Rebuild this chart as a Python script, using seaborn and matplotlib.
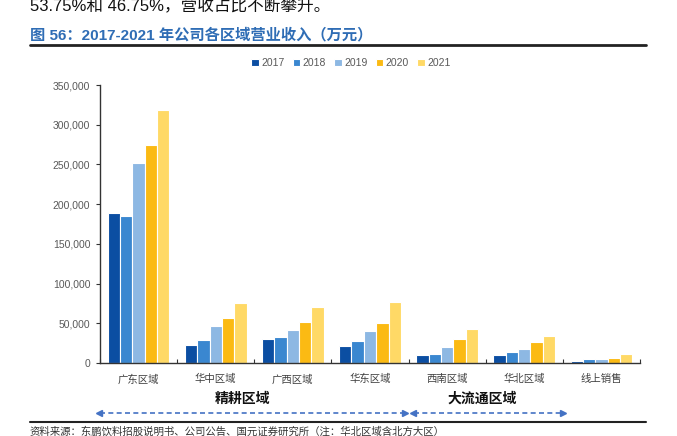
import pandas as pd
import matplotlib
matplotlib.use("Agg")
import matplotlib.pyplot as plt
import matplotlib.ticker as mticker
from matplotlib.lines import Line2D
import seaborn as sns

# Données (万元)
regions = ["广东区域", "华中区域", "广西区域", "华东区域", "西南区域", "华北区域", "线上销售"]
years = ["2017", "2018", "2019", "2020", "2021"]
v2017 = [189000, 22500, 30500, 21300, 10400, 10000, 2500]
v2018 = [184500, 29200, 33000, 27200, 11300, 14200, 4600]
v2019 = [251500, 46400, 41700, 39700, 19600, 17100, 4600]
v2020 = [274500, 56400, 52200, 50100, 29700, 25900, 6300]
v2021 = [319000, 75600, 70600, 76800, 43000, 34200, 11300]
colors = ["#0B4EA2", "#3A87D0", "#8DB8E3", "#FBBA13", "#FFD966"]

rows = []
for y, vals in zip(years, [v2017, v2018, v2019, v2020, v2021]):
    for r, v in zip(regions, vals):
        rows.append({"Region": r, "Year": y, "Value": v})
df = pd.DataFrame(rows)

sns.set_style("white")
plt.rcParams["font.family"] = ["Liberation Sans", "Noto Sans CJK SC", "DejaVu Sans"]
cjk = ["Noto Sans CJK SC", "DejaVu Sans"]

W, H = 677, 436
fig = plt.figure(figsize=(W / 100, H / 100), dpi=100)
ax = fig.add_axes([100 / W, 1 - 363 / H, 540 / W, 278 / H])

sns.barplot(data=df, x="Region", y="Value", hue="Year", palette=colors,
            order=regions, hue_order=years, width=0.8, saturation=1,
            edgecolor="white", linewidth=0.8, ax=ax)

ax.set_ylim(0, 350000)
ax.set_xlim(-0.5, len(regions) - 0.5)
ax.yaxis.set_major_locator(mticker.MultipleLocator(50000))
ax.yaxis.set_major_formatter(mticker.FuncFormatter(lambda v, p: f"{int(v):,}"))
ax.set_xlabel("")
ax.set_ylabel("")
for s in ["top", "right"]:
    ax.spines[s].set_visible(False)
for s in ["left", "bottom"]:
    ax.spines[s].set_color("#333333")
    ax.spines[s].set_linewidth(1.0)

ax.tick_params(axis="y", labelsize=7.5, labelcolor="#595959", length=3,
               width=0.8, color="#333333", left=True, pad=4)
ax.tick_params(axis="x", which="major", length=0, labelsize=7.5,
               labelcolor="#404040", pad=8)
ax.set_xticks([i - 0.5 for i in range(len(regions) + 1)], minor=True)
ax.tick_params(axis="x", which="minor", direction="in", length=3,
               width=0.8, color="#333333", bottom=True)

ax.legend(loc="center", bbox_to_anchor=(351 / W, 1 - 63 / H),
          bbox_transform=fig.transFigure, ncol=5, frameon=False,
          fontsize=7.5, handlelength=0.7, handleheight=0.7,
          handletextpad=0.25, columnspacing=0.8, labelcolor="#595959")

# Textes hors du graphique
fig.text(30 / W, 1 - 5 / H, "53.75%和 46.75%，营收占比不断攀升。", fontsize=12,
         color="#111111", va="center", ha="left")
fig.text(30 / W, 1 - 35 / H, "图 56：2017-2021 年公司各区域营业收入（万元）",
         fontsize=11, color="#2F6DB5", fontweight="bold", va="center", ha="left")
fig.add_artist(Line2D([30 / W, 646 / W], [1 - 45 / H, 1 - 45 / H],
                      color="#222222", lw=2, transform=fig.transFigure))
fig.add_artist(Line2D([30 / W, 646 / W], [1 - 422 / H, 1 - 422 / H],
                      color="#222222", lw=1.5, transform=fig.transFigure))
fig.text(30 / W, 1 - 431.5 / H,
         "资料来源：东鹏饮料招股说明书、公司公告、国元证券研究所（注：华北区域含北方大区）",
         fontsize=7.5, color="#333333", va="center", ha="left", family=cjk)

fig.text(242 / W, 1 - 399 / H, "精耕区域", fontsize=10, fontweight="bold",
         color="#111111", ha="center", va="center", family=cjk)
fig.text(482 / W, 1 - 399 / H, "大流通区域", fontsize=10, fontweight="bold",
         color="#111111", ha="center", va="center", family=cjk)

# Flèches pointillées
ya = 1 - 412.5 / H
for x0, x1 in [(96, 408), (410, 566)]:
    fig.add_artist(Line2D([x0 / W + 0.006, x1 / W - 0.006], [ya, ya],
                          color="#4472C4", lw=1.2, ls=(0, (3, 2)),
                          transform=fig.transFigure))
    fig.add_artist(Line2D([x0 / W + 0.004], [ya], marker="<", markersize=5,
                          color="#4472C4", transform=fig.transFigure))
    fig.add_artist(Line2D([x1 / W - 0.004], [ya], marker=">", markersize=5,
                          color="#4472C4", transform=fig.transFigure))

fig.savefig("out.png", dpi=100)
